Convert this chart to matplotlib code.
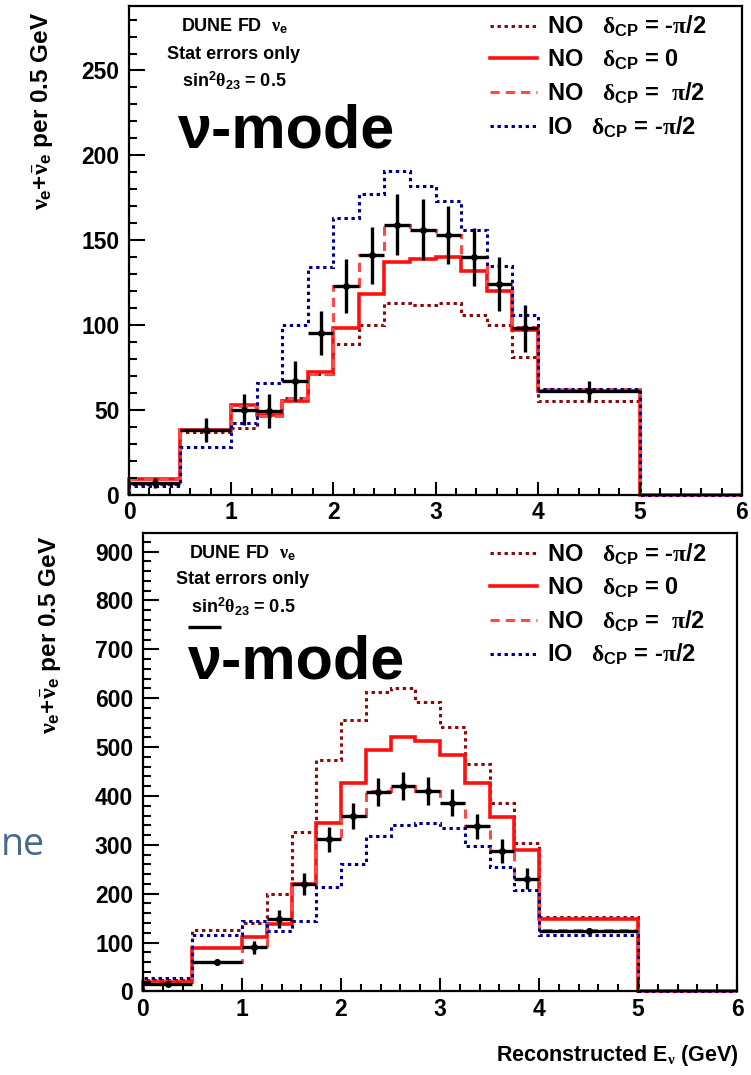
import matplotlib
matplotlib.use("Agg")
import matplotlib.pyplot as plt
from matplotlib.lines import Line2D
from matplotlib.ticker import MultipleLocator
import numpy as np

# bin edges (GeV)
edges = [0, 0.5, 1.0, 1.25, 1.5, 1.75, 2.0, 2.25, 2.5, 2.75, 3.0, 3.25, 3.5, 3.75, 4.0, 5.0, 6.0]

# nu-mode spectra
nu_no_m = [6, 37, 39, 46, 57, 71, 89, 100, 113, 112, 113, 106, 100, 81, 55, 0]
nu_no_0 = [9, 38, 53, 47, 55, 72, 98, 118, 137, 139, 140, 132, 120, 97, 61, 0]
nu_no_p = [9, 38, 52, 46, 57, 71, 123, 141, 159, 156, 153, 140, 124, 99, 62, 0]
nu_io_m = [5, 28, 42, 66, 100, 134, 163, 177, 191, 182, 173, 156, 135, 106, 62, 0]
nu_data = [7, 38, 50, 49, 67, 95, 123, 141, 159, 156, 153, 140, 124, 98, 61]
nu_err = [3, 7, 9, 10, 12, 13, 16, 17, 18, 18, 17, 17, 16, 14, 6]

# anti-nu-mode spectra
anu_no_m = [24, 125, 140, 200, 326, 474, 556, 613, 620, 592, 542, 466, 386, 304, 153, 0]
anu_no_0 = [20, 88, 111, 138, 220, 344, 426, 495, 521, 513, 484, 426, 357, 289, 149, 0]
anu_no_p = [18, 60, 90, 148, 220, 311, 359, 410, 420, 410, 386, 338, 287, 231, 125, 0]
anu_io_m = [27, 116, 144, 123, 144, 214, 261, 318, 341, 344, 334, 297, 254, 208, 116, 0]
anu_data = [16, 60, 90, 148, 220, 311, 359, 408, 420, 410, 386, 338, 287, 231, 123]
anu_err = [5, 6, 13, 18, 23, 26, 27, 28, 29, 29, 28, 26, 24, 22, 6]

labels = [r"NO   $\delta_{\mathbf{CP}}$ = -$\pi$/2",
          r"NO   $\delta_{\mathbf{CP}}$ = 0",
          r"NO   $\delta_{\mathbf{CP}}$ =  $\pi$/2",
          r"IO   $\delta_{\mathbf{CP}}$ = -$\pi$/2"]

plt.rcParams['font.family'] = ['Liberation Sans', 'DejaVu Sans']
plt.rcParams['font.weight'] = 'bold'
plt.rcParams['mathtext.fontset'] = 'custom'
plt.rcParams['mathtext.rm'] = 'Liberation Serif'
plt.rcParams['mathtext.it'] = 'Liberation Serif'
plt.rcParams['mathtext.bf'] = 'Liberation Sans:bold'

styles = [dict(color='#8b0a0a', lw=2.2, ls=(0, (1.1, 1.2))),
          dict(color='#ff1010', lw=2.6, ls='-'),
          dict(color='#ff4848', lw=2.2, ls=(0, (3.0, 2.0))),
          dict(color='#00008f', lw=2.2, ls=(0, (1.1, 1.2)))]


def draw_panel(ax, series, data, err, ymax, ymaj, ymin):
    for vals, st in zip(series, styles):
        ax.stairs(vals, edges, baseline=0, fill=False, clip_on=False, **st)
    e = np.array(edges)
    centers = (e[:-2] + e[1:-1]) / 2
    halfw = (e[1:-1] - e[:-2]) / 2
    ax.errorbar(centers, data, yerr=err, xerr=halfw, fmt='o', color='black',
                ms=4, elinewidth=2.4, capsize=0, zorder=5)
    ax.set_xlim(0, 6)
    ax.set_ylim(0, ymax)
    ax.xaxis.set_major_locator(MultipleLocator(1))
    ax.xaxis.set_minor_locator(MultipleLocator(0.2))
    ax.yaxis.set_major_locator(MultipleLocator(ymaj))
    ax.yaxis.set_minor_locator(MultipleLocator(ymin))
    ax.tick_params(axis='both', which='both', direction='in', top=False, right=False,
                   width=1.5, labelsize=16.5)
    ax.tick_params(axis='y', which='major', length=11.5, pad=7)
    ax.tick_params(axis='y', which='minor', length=5.8)
    ax.tick_params(axis='x', which='major', length=9.5, pad=5)
    ax.tick_params(axis='x', which='minor', length=5)
    for lab in ax.get_xticklabels() + ax.get_yticklabels():
        lab.set_fontweight('bold')
    for sp in ax.spines.values():
        sp.set_linewidth(1.6)
    handles = [Line2D([], [], **st) for st in styles]
    return handles


fig = plt.figure(figsize=(7.51, 10.75), dpi=100)

ax1 = fig.add_axes([0.1718, 0.540, 0.8162, 0.4544])
h = draw_panel(ax1, [nu_no_m, nu_no_0, nu_no_p, nu_io_m], nu_data, nu_err, 288, 50, 10)
ax1.legend(h, labels, loc='upper left', bbox_to_anchor=(0.589, 0.984), frameon=False,
           fontsize=17, handlelength=2.0, handletextpad=0.4, labelspacing=0.36,
           borderpad=0, borderaxespad=0)
ax1.text(0.171, 0.958, r"DUNE FD  $\nu_{\mathbf{e}}$", transform=ax1.transAxes,
         ha='center', va='center', fontsize=13)
ax1.text(0.171, 0.900, "Stat errors only", transform=ax1.transAxes,
         ha='center', va='center', fontsize=13)
ax1.text(0.171, 0.846, r"sin$^{\mathbf{2}}\theta_{\mathbf{23}}$ = 0.5", transform=ax1.transAxes,
         ha='center', va='center', fontsize=13)
ax1.text(0.080, 0.711, "ν-mode", transform=ax1.transAxes, ha='left', va='baseline',
         fontsize=44)

ax2 = fig.add_axes([0.1904, 0.0777, 0.791, 0.4265])
h = draw_panel(ax2, [anu_no_m, anu_no_0, anu_no_p, anu_io_m], anu_data, anu_err, 938, 100, 20)
ax2.legend(h, labels, loc='upper left', bbox_to_anchor=(0.584, 0.981), frameon=False,
           fontsize=17, handlelength=2.0, handletextpad=0.4, labelspacing=0.36,
           borderpad=0, borderaxespad=0)
ax2.text(0.168, 0.956, r"DUNE FD  $\nu_{\mathbf{e}}$", transform=ax2.transAxes,
         ha='center', va='center', fontsize=13)
ax2.text(0.168, 0.8975, "Stat errors only", transform=ax2.transAxes,
         ha='center', va='center', fontsize=13)
ax2.text(0.168, 0.838, r"sin$^{\mathbf{2}}\theta_{\mathbf{23}}$ = 0.5", transform=ax2.transAxes,
         ha='center', va='center', fontsize=13)
ax2.plot([0.0758, 0.1313], [0.795, 0.795], transform=ax2.transAxes, color='black',
         lw=2.4, clip_on=False, solid_capstyle='butt')
ax2.text(0.0758, 0.6816, "ν-mode", transform=ax2.transAxes, ha='left', va='baseline',
         fontsize=44)

ylab = r"$\nu_{\mathbf{e}}$+$\bar{\nu}_{\mathbf{e}}$ per 0.5 GeV"
fig.text(42 / 751, 1 - 12 / 1075, ylab, rotation=90, ha='center', va='top', fontsize=17.5)
fig.text(50 / 751, 1 - 536 / 1075, ylab, rotation=90, ha='center', va='top', fontsize=17.5)
fig.text(738 / 751, 1 - 1055 / 1075, r"Reconstructed E$_{\nu}$ (GeV)", ha='right',
         va='center', fontsize=15.5)

fig.text(1 / 751, 1 - 845 / 1075, "ne", ha='left', va='center', fontsize=27,
         color='#46698f', family='Open Sans', weight='normal')

fig.savefig("out.png", dpi=100)
